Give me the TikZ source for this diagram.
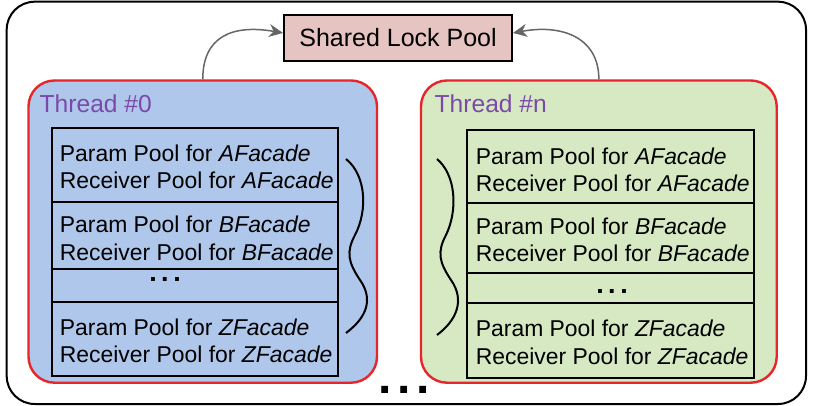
\documentclass[tikz,border=0pt]{standalone}
\usepackage{fontspec}
\setmainfont{Liberation Sans}
\usetikzlibrary{arrows.meta,calc}
\definecolor{tblue}{HTML}{AEC7EB}
\definecolor{tgreen}{HTML}{D6E9C3}
\definecolor{tpink}{HTML}{E6C4C1}
\definecolor{tred}{HTML}{E8252A}
\definecolor{tpurple}{HTML}{7B4AA8}
\definecolor{tgrey}{HTML}{666666}
\tikzset{
  outerbox/.style={draw=black, line width=2pt, rounded corners=28pt, inner sep=0pt},
  threadbox/.style={draw=tred, line width=2.4pt, rounded corners=26pt, inner sep=0pt},
  rowbox/.style={draw=black, line width=2pt, inner sep=0pt},
  rowtext/.style={font=\fontsize{22.9}{27.5}\selectfont, align=left, inner sep=0pt, anchor=west},
  threadlabel/.style={font=\fontsize{24.6}{29}\selectfont, text=tpurple, inner sep=0pt, anchor=base west},
  lockbox/.style={draw=black, line width=2pt, fill=tpink, inner sep=0pt, font=\fontsize{25}{30}\selectfont},
  conn/.style={draw=tgrey, line width=1.5pt, -{Stealth[length=14pt,width=13pt]}},
  bracecurve/.style={draw=black, line width=2pt},
  smalldots/.style={font=\bfseries\fontsize{27}{27}\selectfont, inner sep=0pt},
  bigdots/.style={font=\bfseries\fontsize{48}{48}\selectfont, inner sep=0pt}
}
\begin{document}
\begin{tikzpicture}[x=1pt,y=-1pt]
\useasboundingbox (0,0) rectangle (813,406);
\node[outerbox, minimum width=799.3pt, minimum height=402.3pt] (outer) at (406.35,202.85) {};
% shared lock pool
\node[lockbox, minimum width=228pt, minimum height=46pt] (lock) at (398,38) {Shared Lock Pool};
% thread boxes
\node[threadbox, fill=tblue, minimum width=348.5pt, minimum height=302.2pt] (t0) at (202.75,231.6) {};
\node[threadbox, fill=tgreen, minimum width=355.7pt, minimum height=302.2pt] (t1) at (598.85,231.6) {};
\node[threadlabel] (t0l) at (39.5,112.8) {Thread \#0};
\node[threadlabel] (t1l) at (434.5,112.8) {Thread \#n};
% connectors
\coordinate (lockL) at ($(lock.west)+(0,-5)$);
\coordinate (lockR) at ($(lock.east)+(0,-5)$);
\draw[conn] (t0.north) .. controls +(0,-42.5) and +(-51,-9) .. (lockL);
\draw[conn] (t1.north) .. controls +(0,-42.5) and +(48,-9) .. (lockR);
% left stack
\node[rowbox, minimum width=286.3pt, minimum height=74pt] (l1) at (194.85,164.7) {};
\node[rowbox, minimum width=286.3pt, minimum height=67.3pt] (l2) at (194.85,235.35) {};
\node[rowbox, minimum width=286.3pt, minimum height=32.7pt] (l3) at (194.85,285.35) {};
\node[rowbox, minimum width=286.3pt, minimum height=74pt] (l4) at (194.85,338.7) {};
\node[rowtext] (l1t) at ($(l1.west)+(9,2.3)$) {Param Pool for \textit{AFacade}\\Receiver Pool for \textit{AFacade}};
\node[rowtext] (l2t) at ($(l2.west)+(9,2.8)$) {Param Pool for \textit{BFacade}\\Receiver Pool for \textit{BFacade}};
\node[smalldots] (l3t) at (165,279.5) {.\hspace{4.5pt}.\hspace{4.5pt}.};
\node[rowtext] (l4t) at ($(l4.west)+(9,2.1)$) {Param Pool for \textit{ZFacade}\\Receiver Pool for \textit{ZFacade}};
% right stack
\node[rowbox, minimum width=287.3pt, minimum height=72.7pt] (r1) at (610.35,166.35) {};
\node[rowbox, minimum width=287.3pt, minimum height=70pt] (r2) at (610.35,237.7) {};
\node[rowbox, minimum width=287.3pt, minimum height=30.6pt] (r3) at (610.35,288) {};
\node[rowbox, minimum width=287.3pt, minimum height=74.4pt] (r4) at (610.35,340.5) {};
\node[rowtext] (r1t) at ($(r1.west)+(10,3.3)$) {Param Pool for \textit{AFacade}\\Receiver Pool for \textit{AFacade}};
\node[rowtext] (r2t) at ($(r2.west)+(10,2.3)$) {Param Pool for \textit{BFacade}\\Receiver Pool for \textit{BFacade}};
\node[smalldots] (r3t) at (612,291.5) {.\hspace{4.5pt}.\hspace{4.5pt}.};
\node[rowtext] (r4t) at ($(r4.west)+(10,2)$) {Param Pool for \textit{ZFacade}\\Receiver Pool for \textit{ZFacade}};
% braces
\draw[bracecurve] (346,159) .. controls (366,175) and (368,210) .. (355,235)
  .. controls (346,252) and (348,262) .. (360,280)
  .. controls (374,300) and (366,318) .. (346,333);
\draw[bracecurve] (437,159) .. controls (456,175) and (458,210) .. (446,235)
  .. controls (437,252) and (439,262) .. (451,280)
  .. controls (465,300) and (457,320) .. (437,335);
% bottom dots
\node[bigdots] (more) at (404,390) {.\hspace{5.7pt}.\hspace{5.7pt}.};
\end{tikzpicture}
\end{document}
